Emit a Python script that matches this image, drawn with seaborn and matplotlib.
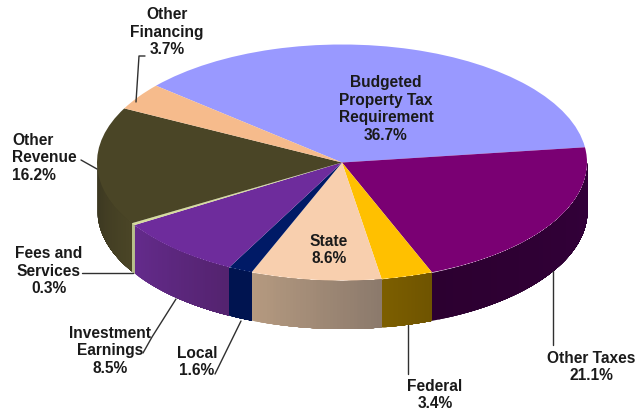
import numpy as np
import matplotlib
matplotlib.use("Agg")
import matplotlib.pyplot as plt
import matplotlib.colors as mc
import seaborn as sns

# Shares going clockwise, starting from the property tax slice
labels = ["Budgeted\nProperty Tax\nRequirement", "Other Taxes", "Federal", "State", "Local",
          "Investment\nEarnings", "Fees and\nServices", "Other\nRevenue", "Other\nFinancing"]
values = [36.7, 21.1, 3.4, 8.6, 1.6, 8.5, 0.3, 16.2, 3.7]
top_colors = ["#9999ff", "#7a0073", "#ffc000", "#f8cfae", "#001a66",
              "#6e2c9c", "#d6dc9c", "#4a4526", "#f6bb8c"]
# wall colour at left and right end of each slice
wall_left = ["#9999ff", "#2c0030", "#7d5f00", "#b59a80", "#001450",
             "#642b8c", "#b8c08a", "#3a3620", "#f6bb8c"]
wall_right = ["#9999ff", "#33003a", "#6f5400", "#8c7a6c", "#001450",
              "#54236f", "#b8c08a", "#4a4526", "#f6bb8c"]

label_x = [386, 591, 435, 329, 197, 110, 49, 12, 167]
label_y = [109, 367, 395, 250, 362, 351, 271, 158, 32]
label_ha = ["center"] * 7 + ["left", "center"]

# leader lines in pixels
leaders = [([553, 553], [272, 346]),
           ([408, 408], [326, 375]),
           ([241, 215], [322, 375]),
           ([176, 152, 143], [300, 338, 354]),
           ([133, 82], [274, 274]),
           ([97, 81], [170, 161]),
           ([136, 139, 145], [103, 57, 57])]

W, H = 639, 410
cx, cy, rx, ry = 342, 163.5, 245, 118
depth = 48 / ry
start = 139.4


def px(x, y):
    return (x - cx) / rx, (cy - y) / ry


sns.set_theme(style="white")
plt.rcParams["font.family"] = ["Liberation Sans", "DejaVu Sans"]

fig = plt.figure(figsize=(W / 100, H / 100), dpi=100)
ax = fig.add_axes([0, 0, 1, 1])

# side wall of the disc, one slice at a time, only the part facing front
edges = start - np.cumsum([0] + values) * 3.6
for i in range(len(values)):
    lo, hi = max(edges[i + 1], -180), min(edges[i], 0)
    if lo >= hi:
        continue
    t = np.radians(np.linspace(lo, hi, 40))
    c0, c1 = np.array(mc.to_rgb(wall_left[i])), np.array(mc.to_rgb(wall_right[i]))
    # each strip runs to the end of the slice so no gaps show between strips
    for j in range(len(t) - 1):
        seg = t[j:]
        f = j / (len(t) - 2)
        ax.fill_between(np.cos(seg), np.sin(seg), np.sin(seg) - depth,
                        color=c0 * (1 - f) + c1 * f, lw=0, zorder=0.5)

colors = sns.color_palette(top_colors)
ax.pie(values, colors=colors, startangle=start, counterclock=False,
       radius=1, center=(0, 0), frame=False,
       wedgeprops={"linewidth": 0.3, "edgecolor": "none"})
ax.set_aspect("auto")
ax.set_xlim(-cx / rx, (W - cx) / rx)
ax.set_ylim((cy - H) / ry, cy / ry)
ax.axis("off")

for xs, ys in leaders:
    p = [px(a, b) for a, b in zip(xs, ys)]
    ax.plot([q[0] for q in p], [q[1] for q in p], color="#303030", lw=1.0, zorder=3)

for name, val, x, y, ha in zip(labels, values, label_x, label_y, label_ha):
    tx, ty = px(x, y)
    ax.text(tx, ty, f"{name}\n{val}%", ha=ha, va="center", multialignment=ha,
            fontsize=11.2, fontweight="bold", color="#1a1a1a", linespacing=1.22, zorder=4)

fig.savefig("out.png", dpi=100)
